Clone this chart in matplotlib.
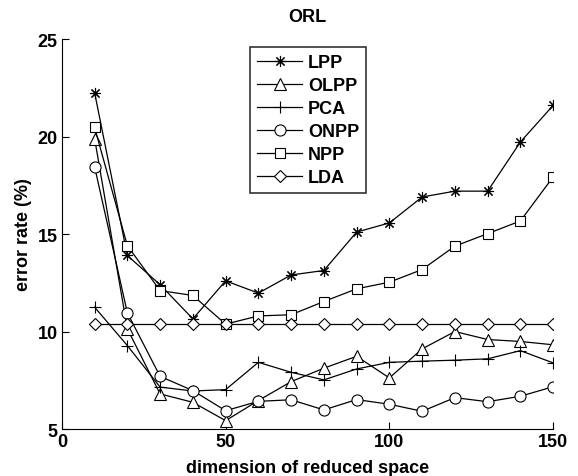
import matplotlib
matplotlib.use("Agg")
import matplotlib.pyplot as plt

plt.rcParams['font.family'] = ['Liberation Sans', 'DejaVu Sans']
plt.rcParams['font.weight'] = 'bold'

dims = [10, 20, 30, 40, 50, 60, 70, 80, 90, 100, 110, 120, 130, 140, 150]

lpp = [22.25, 13.9, 12.4, 10.65, 12.6, 11.97, 12.9, 13.13, 15.1, 15.57, 16.9, 17.2, 17.2, 19.72, 21.6]
olpp = [19.9, 10.14, 6.8, 6.37, 5.43, 6.46, 7.43, 8.12, 8.73, 7.62, 9.11, 10.0, 9.59, 9.49, 9.32]
pca = [11.25, 9.28, 7.15, 6.95, 7.02, 8.42, 7.91, 7.52, 8.08, 8.42, 8.48, 8.53, 8.6, 9.02, 8.39]
onpp = [18.45, 10.96, 7.7, 6.97, 5.94, 6.42, 6.5, 5.98, 6.51, 6.27, 5.91, 6.61, 6.4, 6.68, 7.17]
npp = [20.47, 14.4, 12.1, 11.85, 10.38, 10.8, 10.86, 11.54, 12.19, 12.53, 13.18, 14.38, 15.02, 15.67, 17.93]
lda = [10.38] * 15

names = ['LPP', 'OLPP', 'PCA', 'ONPP', 'NPP', 'LDA']
markers = [(8, 2, 0), '^', '+', 'o', 's', 'D']
sizes = [8, 8, 9, 8, 7, 6]

fig = plt.figure(figsize=(5.78, 4.77), dpi=100)
ax = fig.add_axes([0.107, 0.0985, 0.85, 0.8175])

for ys, name, m, s in zip([lpp, olpp, pca, onpp, npp, lda], names, markers, sizes):
    ax.plot(dims, ys, color='black', linewidth=0.9, marker=m, markersize=s,
            markerfacecolor='white', markeredgecolor='black', markeredgewidth=0.8, label=name)

ax.set_xlim(0, 150)
ax.set_ylim(5, 25)
ax.set_xticks([0, 50, 100, 150])
ax.set_yticks([5, 10, 15, 20, 25])
ax.tick_params(direction='in', length=5, labelsize=13, width=0.8, pad=3)
for lab in ax.get_xticklabels() + ax.get_yticklabels():
    lab.set_fontweight('bold')
ax.spines['top'].set_visible(False)
ax.spines['right'].set_visible(False)

ax.set_title('ORL', fontsize=13, fontweight='bold', pad=13)
ax.set_xlabel('dimension of reduced space', fontsize=13, fontweight='bold', labelpad=6)
ax.set_ylabel('error rate (%)', fontsize=13, fontweight='bold', labelpad=4)

leg = ax.legend(loc='upper left', bbox_to_anchor=(0.383, 0.979), fontsize=13, frameon=True,
                fancybox=False, edgecolor='black', handlelength=2.5, borderpad=0.4,
                labelspacing=0.33, handletextpad=0.3, borderaxespad=0)
leg.get_frame().set_linewidth(1.2)
for t in leg.get_texts():
    t.set_fontweight('bold')

fig.savefig('out.png', dpi=100)
